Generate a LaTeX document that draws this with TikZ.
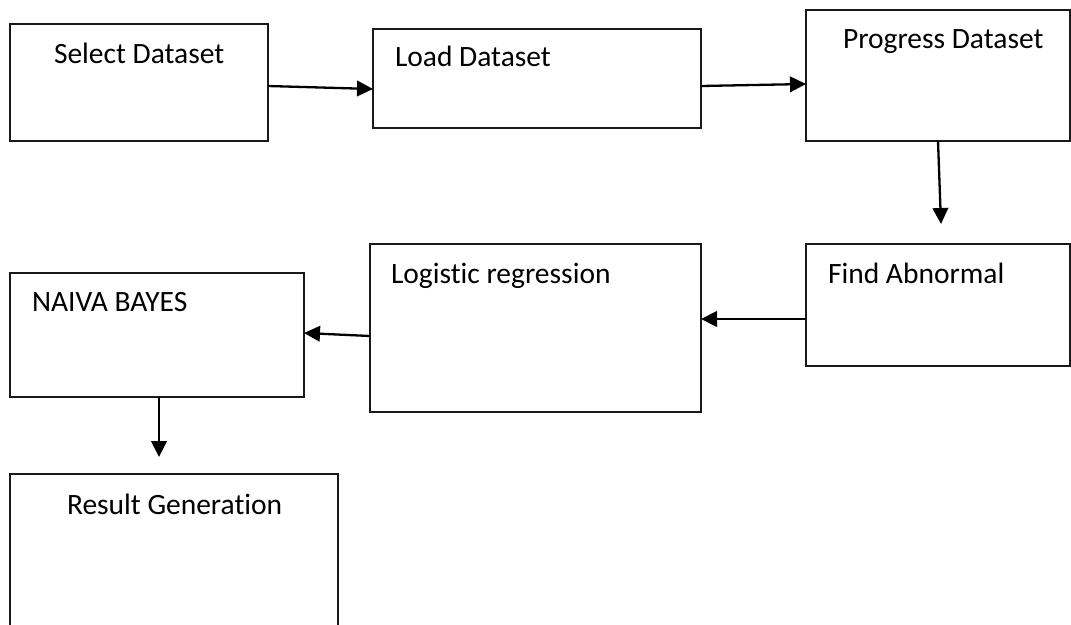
\documentclass[tikz,border=0pt]{standalone}
\usepackage{fontspec}
\setmainfont[Ligatures=NoCommon]{Carlito}
\usetikzlibrary{arrows.meta}
\tikzset{
  box/.style={draw=black!90, line width=2pt, rectangle, anchor=north west, inner sep=0pt, outer sep=0pt},
  lbl/.style={anchor=base west, inner sep=0pt, outer sep=0pt, font=\fontsize{29.5}{34}\selectfont},
  arr/.style={line width=2.3pt, -{Triangle[length=16pt,width=15.5pt]}}
}
\begin{document}
\begin{tikzpicture}[x=1pt,y=-1pt]
\clip (0,0) rectangle (1071,624);
\fill[white] (0,0) rectangle (1071,624);
% boxes
\node[box, minimum width=258pt, minimum height=117pt] (b1) at (10,24) {};
\node[box, minimum width=328pt, minimum height=99pt] (b2) at (373,29) {};
\node[box, minimum width=264pt, minimum height=131pt] (b3) at (806,10) {};
\node[box, minimum width=264pt, minimum height=122pt] (b4) at (806,244) {};
\node[box, minimum width=331pt, minimum height=168pt] (b5) at (370,244) {};
\node[box, minimum width=294pt, minimum height=124pt] (b6) at (10,273) {};
\node[box, minimum width=328pt, minimum height=180pt] (b7) at (10,474) {};
% texts
\node[lbl] (t1) at (54,63) {Select Dataset};
\node[lbl] (t2) at (395,66.5) {Load Dataset};
\node[lbl] (t3) at (843,48.5) {Progress Dataset};
\node[lbl] (t4) at (828,283) {Find Abnormal};
\node[lbl] (t5) at (391,283) {Logistic regression};
\node[lbl] (t6) at (32,311.5) {NAIVA BAYES};
\node[lbl] (t7) at (67,514) {Result Generation};
% connectors
\draw[arr] ([yshift=-3.5pt]b1.east) -- ([yshift=-10.5pt]b2.west);
\draw[arr] ([yshift=-7.5pt]b2.east) -- ([yshift=-8.5pt]b3.west);
\coordinate (c34) at ([xshift=3pt,yshift=20pt]b4.north);
\draw[arr] (b3.south) -- (c34);
\draw[arr] ([yshift=-14pt]b4.west) -- ([yshift=9pt]b5.east);
\draw[arr] ([yshift=-8pt]b5.west) -- ([yshift=2pt]b6.east);
\coordinate (c67) at ([xshift=-15pt,yshift=17pt]b7.north);
\draw[arr] ([xshift=2pt]b6.south) -- (c67);
\end{tikzpicture}
\end{document}
